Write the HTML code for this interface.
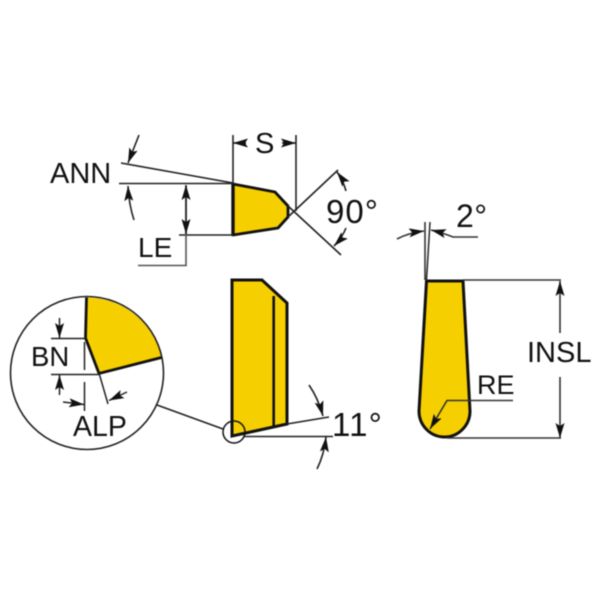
<!DOCTYPE html>
<html>
<head>
<meta charset="utf-8">
<style>
html,body{margin:0;padding:0;background:#fff;width:600px;height:600px;overflow:hidden}
svg{display:block;filter:blur(0.4px)}
text{font-family:"Liberation Sans",sans-serif;fill:#111}
</style>
</head>
<body>
<svg width="600" height="600" viewBox="0 0 600 600" xmlns="http://www.w3.org/2000/svg">
<defs>
<marker id="a" viewBox="0 0 15 9" refX="15" refY="4.5" markerWidth="15" markerHeight="9" markerUnits="userSpaceOnUse" orient="auto"><path d="M0 0L15 4.5L0 9L3 4.5Z" fill="#111"/></marker>
</defs>
<rect width="600" height="600" fill="#fff"/>

<!-- top view -->
<polygon points="233,184 275,192 288,206 288,217 278,228 233,235" fill="#f6cf00" stroke="#111" stroke-width="2.8" stroke-linejoin="round"/>
<line x1="233" y1="183" x2="233" y2="236" stroke="#111" stroke-width="3.4"/>
<g fill="none" stroke="#222" stroke-width="1.6">
<path d="M121 163L233 183M119 183.5H233M179 235H233"/>
<path d="M233 135V184M296 135V211"/>
<path d="M338 170L288 217M288 206L341 255"/>
<path d="M186 186V234"/>
<path d="M186 234V265.5H138" stroke="#555"/>
<path d="M139 135L128 163" marker-end="url(#a)"/>
<path d="M134 220Q129 205 128 186" marker-end="url(#a)"/>
<path d="M186 210V185" marker-end="url(#a)"/>
<path d="M186 210V234" marker-end="url(#a)"/>
<path d="M246 143H233" marker-end="url(#a)"/>
<path d="M282 143H296" marker-end="url(#a)"/>
<path d="M346 191Q343 180 337 172" marker-end="url(#a)"/>
<path d="M346 228Q342 238 334 246" marker-end="url(#a)"/>
</g>
<text x="50" y="183" font-size="29">ANN</text>
<text x="138" y="257" font-size="28">LE</text>
<text x="255" y="153" font-size="29">S</text>
<text x="326" y="223" font-size="33" letter-spacing="1">90°</text>

<!-- front view -->
<polygon points="232,280 262,280 287,303 287,424 232,436" fill="#f6cf00" stroke="#111" stroke-width="3" stroke-linejoin="miter"/>
<line x1="273.7" y1="296" x2="273.7" y2="427" stroke="#111" stroke-width="2.6"/>
<circle cx="234" cy="432" r="11" fill="none" stroke="#111" stroke-width="1.5"/>
<g fill="none" stroke="#222" stroke-width="1.6">
<path d="M287 424L329 417M243 436.5H333"/>
<path d="M309 385Q318 398 323 416" marker-end="url(#a)"/>
<path d="M317 469Q324 455 326 437" marker-end="url(#a)"/>
<path d="M157 405L223 429"/>
</g>
<text x="332" y="436" font-size="33" letter-spacing="1.2">11°</text>

<!-- detail circle -->
<path d="M86.5 297.5L85.5 338L99 373.5L161.5 357.5A76.5 76.5 0 0 0 86.5 297.5Z" fill="#f6cf00"/>
<path d="M86.5 297.5L85.5 338L99 373.5L161.5 357.5" fill="none" stroke="#111" stroke-width="2.8"/>
<circle cx="87" cy="373" r="76.5" fill="none" stroke="#222" stroke-width="1.6"/>
<g fill="none" stroke="#222" stroke-width="1.5">
<path d="M51 338.5H86M51 374.5H99"/>
<path d="M84.5 342V370M84.5 382V411M99 373L108 404"/>
<path d="M59.5 318V338" marker-end="url(#a)"/>
<path d="M59.5 395V375" marker-end="url(#a)"/>
<path d="M63 402L84 404.5" marker-end="url(#a)"/>
<path d="M127 392L109 400.5" marker-end="url(#a)"/>
</g>
<text x="31" y="366" font-size="27.5">BN</text>
<text x="73" y="436" font-size="28.5">ALP</text>

<!-- side view -->
<path d="M426.5 281H463L470 411A25.5 26 0 0 1 419 411Z" fill="#f6cf00" stroke="#111" stroke-width="3" stroke-linejoin="round"/>
<g fill="none" stroke="#333" stroke-width="1.6">
<path d="M425 222V280M430 222L426.5 280"/>
<path d="M463 280H561M447 438H561"/>
<path d="M560 333V281" marker-end="url(#a)"/>
<path d="M560 377V438" marker-end="url(#a)"/>
<path d="M513 400.5H447L430 429" marker-end="url(#a)"/>
<path d="M397 239Q408 233 424 231" marker-end="url(#a)"/>
<path d="M478 237H453Q443 233 431 230" marker-end="url(#a)"/>
</g>
<text x="456" y="227" font-size="32" letter-spacing="0.5">2°</text>
<text x="527" y="362" font-size="29">INSL</text>
<text x="477" y="394" font-size="27">RE</text>
</svg>
</body>
</html>
